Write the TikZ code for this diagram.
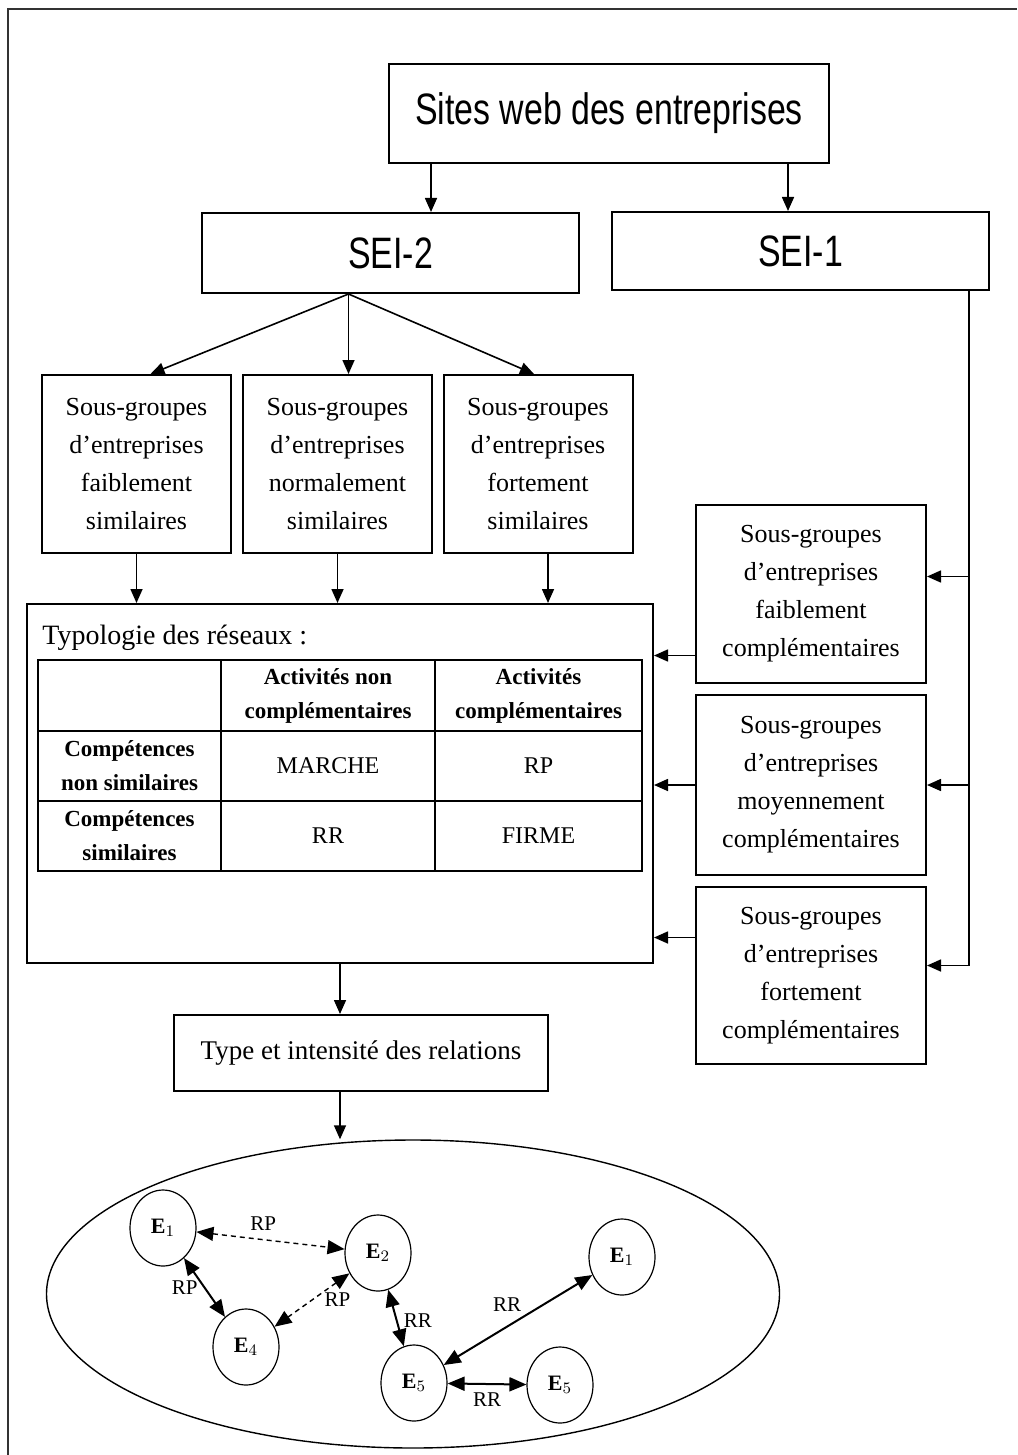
\documentclass[tikz,border=0pt]{standalone}
\usepackage{fontspec}
\setmainfont{Liberation Serif}
\newfontfamily\headfont[FakeStretch=0.77]{Liberation Sans}
\usetikzlibrary{arrows.meta,positioning,shapes.geometric,calc}
\tikzset{
  topbox/.style={
    draw,
    line width=1pt,
    font=\headfont\fontsize{22}{24}\selectfont,
    inner sep=0pt
  },
  groupbox/.style={
    draw,
    line width=1pt,
    align=center,
    font=\fontsize{13}{19}\selectfont,
    minimum width=94.5pt,
    minimum height=89pt,
    inner sep=0pt
  },
  compbox/.style={
    draw,
    line width=1pt,
    align=center,
    font=\fontsize{13}{19}\selectfont,
    minimum width=115pt,
    minimum height=89pt,
    inner sep=0pt
  },
  cell/.style={
    draw,
    line width=1pt,
    align=center,
    font=\fontsize{12}{17}\selectfont,
    inner sep=0pt
  },
  headcell/.style={cell,font=\bfseries\fontsize{11.5}{17}\selectfont},
  ent/.style={
    draw,
    ellipse,
    line width=0.6pt,
    minimum width=33pt,
    minimum height=38pt,
    inner sep=0pt,
    font=\bfseries\fontsize{11}{12}\selectfont
  },
  rel/.style={font=\fontsize{10.5}{12}\selectfont,inner sep=1pt},
  flow/.style={-{Triangle[length=7pt,width=6pt]},line width=0.8pt},
  link/.style={{Triangle[length=8.5pt,width=7pt]}-{Triangle[length=8.5pt,width=7pt]},line width=1pt},
  weaklink/.style={link,line width=0.7pt,dash pattern=on 2.5pt off 2pt}
}

\begin{document}
\begin{tikzpicture}[x=0.5pt,y=-0.5pt]
  \useasboundingbox (0,0) rectangle (1017,1455);
  \draw[line width=0.9pt,black!80] (8,1455) -- (8,9) -- (1017,9);

  % top of the chain
  \node[topbox,minimum width=220pt,minimum height=49.5pt] (sites) at (609,113.5) {Sites web des entreprises};
  \node[topbox,minimum width=188.5pt,minimum height=40pt] (sei2) at (390.5,253) {SEI-2};
  \node[topbox,minimum width=188.5pt,minimum height=39pt] (sei1) at (800.5,251) {SEI-1};
  \coordinate (sitesL) at ($(sites.south west)+(43,0)$);
  \coordinate (sitesR) at ($(sites.south east)+(-42,0)$);
  \draw[flow] (sitesL) -- (sitesL |- sei2.north);
  \draw[flow] (sitesR) -- (sitesR |- sei1.north);

  % SEI-2 branch
  \node[groupbox] (grpA) at (136.5,464) {Sous-groupes\\d'entreprises\\faiblement\\similaires};
  \node[groupbox] (grpB) at (337.5,464) {Sous-groupes\\d'entreprises\\normalement\\similaires};
  \node[groupbox] (grpC) at (538,464) {Sous-groupes\\d'entreprises\\fortement\\similaires};
  \coordinate (fan) at ($(sei2.south)+(-42,0)$);
  \draw[flow] (fan) -- ($(grpA.north)+(14,0)$);
  \draw[flow] (fan) -- (fan |- grpB.north);
  \draw[flow] (fan) -- ($(grpC.north)+(-4,0)$);

  % typology
  \node[draw,line width=1pt,minimum width=313pt,minimum height=179.5pt,inner sep=0pt] (typo) at (340,783.5) {};
  \node[anchor=west,font=\fontsize{14}{16}\selectfont,inner sep=0pt] (typotitle) at (42,638) {Typologie des réseaux :};
  \node[headcell,minimum width=91.5pt,minimum height=35.5pt] (c11) at (129.5,695.5) {};
  \node[headcell,minimum width=107pt,minimum height=35.5pt] (c12) at (328,695.5) {Activités non\\complémentaires};
  \node[headcell,minimum width=103.5pt,minimum height=35.5pt] (c13) at (538.5,695.5) {Activités\\complémentaires};
  \node[headcell,minimum width=91.5pt,minimum height=35pt] (c21) at (129.5,766) {Compétences\\non similaires};
  \node[cell,minimum width=107pt,minimum height=35pt] (c22) at (328,766) {MARCHE};
  \node[cell,minimum width=103.5pt,minimum height=35pt] (c23) at (538.5,766) {RP};
  \node[headcell,minimum width=91.5pt,minimum height=35pt] (c31) at (129.5,836) {Compétences\\similaires};
  \node[cell,minimum width=107pt,minimum height=35pt] (c32) at (328,836) {RR};
  \node[cell,minimum width=103.5pt,minimum height=35pt] (c33) at (538.5,836) {FIRME};
  \coordinate (grpCout) at ($(grpC.south)+(10,0)$);
  \draw[flow] (grpA.south) -- (grpA.south |- typo.north);
  \draw[flow] (grpB.south) -- (grpB.south |- typo.north);
  \draw[flow] (grpCout) -- (grpCout |- typo.north);

  % SEI-1 branch
  \node[compbox] (cmpA) at (811,593.5) {Sous-groupes\\d'entreprises\\faiblement\\complémentaires};
  \node[compbox,minimum height=90pt] (cmpB) at (811,785) {Sous-groupes\\d'entreprises\\moyennement\\complémentaires};
  \node[compbox,minimum height=88.5pt] (cmpC) at (811,975.5) {Sous-groupes\\d'entreprises\\fortement\\complémentaires};
  \coordinate (bus) at ($(sei1.south east)+(-21,0)$);
  \coordinate (cmpAin) at ($(cmpA.east)+(0,-17)$);
  \coordinate (cmpCin) at ($(cmpC.east)+(0,-10)$);
  \coordinate (cmpAout) at ($(cmpA.west)+(0,62)$);
  \coordinate (cmpCout) at ($(cmpC.west)+(0,-38)$);
  \draw[flow] (bus) |- (cmpCin);
  \draw[flow] (bus |- cmpB.east) -- (cmpB.east);
  \draw[flow] (bus |- cmpAin) -- (cmpAin);
  \draw[flow] (cmpAout) -- (cmpAout -| typo.east);
  \draw[flow] (cmpB.west) -- (cmpB.west -| typo.east);
  \draw[flow] (cmpCout) -- (cmpCout -| typo.east);

  % relations
  \node[draw,line width=1pt,minimum width=187pt,minimum height=38pt,font=\fontsize{13.5}{16}\selectfont,inner sep=0pt] (type) at (361,1053) {Type et intensité des relations};
  \draw[flow] (typo.south) -- (typo.south |- type.north);
  \node[draw,ellipse,line width=0.7pt,minimum width=366.5pt,minimum height=154pt,inner sep=0pt] (net) at (413,1294) {};
  \draw[flow] (typo.south |- type.south) -- (typo.south |- net.north);

  % network of firms
  \node[ent] (e1) at (163,1228) {E$_1$};
  \node[ent] (e2) at (378,1253) {E$_2$};
  \node[ent] (e3) at (622,1257) {E$_1$};
  \node[ent] (e4) at (246,1347) {E$_4$};
  \node[ent] (e5) at (414,1383) {E$_5$};
  \node[ent] (e6) at (560,1385) {E$_5$};
  \draw[weaklink] (e1) -- (e2) node[rel,pos=0.45,above=3pt] {RP};
  \draw[link] (e1) -- (e4) node[rel,midway,left=2pt] {RP};
  \draw[weaklink] (e2) -- (e4) node[rel,midway,right=5pt] {RP};
  \draw[link] (e2) -- (e5) node[rel,pos=0.55,right=2pt] {RR};
  \draw[link] (e5) -- (e3) node[rel,pos=0.55,above left=1pt] {RR};
  \draw[link] (e5) -- (e6) node[rel,midway,below=3pt] {RR};
\end{tikzpicture}
\end{document}
